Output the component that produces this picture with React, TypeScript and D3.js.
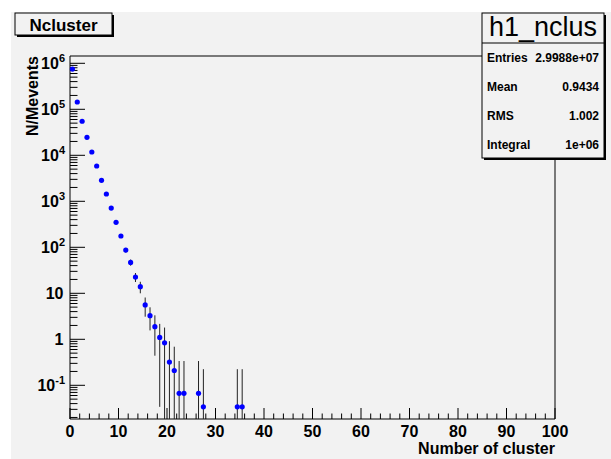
import React from "react";
import * as d3 from "d3";

// ---- data ----
const binCenters = [0.5, 1.5, 2.5, 3.5, 4.5, 5.5, 6.5, 7.5, 8.5, 9.5, 10.5, 11.5, 12.5, 13.5, 14.5, 15.5, 16.5, 17.5, 18.5, 19.5, 20.5, 21.5, 22.5, 23.5, 26.5, 27.5, 34.5, 35.5];
const values = [7.5e5, 1.44e5, 5.5e4, 2.46e4, 1.18e4, 5850, 2860, 1440, 714, 349, 176, 87, 47, 22.6, 13.9, 5.6, 3.26, 1.88, 1.1, 0.84, 0.32, 0.21, 0.067, 0.067, 0.067, 0.034, 0.034, 0.034];
const errors = [909, 398, 246, 165, 114, 80, 56, 40, 28, 19.6, 13.9, 9.8, 7.2, 5.0, 3.9, 2.5, 1.7, 1.44, 1.066, 0.96, 0.59, 0.48, 0.27, 0.27, 0.27, 0.19, 0.19, 0.19];

const xTickLabels = [0, 10, 20, 30, 40, 50, 60, 70, 80, 90, 100];
const yDecades = [-1, 0, 1, 2, 3, 4, 5, 6];

const statsTitle = "h1_nclus";
const statsNames = ["Entries", "Mean", "RMS", "Integral"];
const statsValues = ["2.9988e+07", "0.9434", "1.002", "1e+06"];

const histTitle = "Ncluster";
const xTitle = "Number of cluster";
const yTitle = "N/Mevents";

// ---- layout ----
const W = 611, H = 459;
const L = 70, R = 555, T = 56, B = 419;
const xDomain: [number, number] = [0, 100];
const yDomain: [number, number] = [0.01851, 1.441e6];
const FONT = "'Liberation Sans', Arial, Helvetica, sans-serif";
const BG = "#f2f2f2";

export default function App() {
  const x = d3.scaleLinear().domain(xDomain).range([L, R]);
  const y = d3.scaleLog().domain(yDomain).range([B, T]);

  const xMinor = d3.range(0, 101, 2);
  const yMinor: number[] = [];
  for (let d = -2; d <= 6; d++) {
    for (let k = 2; k <= 9; k++) {
      const v = k * Math.pow(10, d);
      if (v >= yDomain[0] && v <= yDomain[1]) yMinor.push(v);
    }
  }

  const clampY = (v: number) => (v <= yDomain[0] ? B : Math.max(T, y(v)));

  const yLabel = (d: number) => {
    if (d === 0) return <tspan>1</tspan>;
    if (d === 1) return <tspan>10</tspan>;
    return (
      <>
        <tspan>10</tspan>
        <tspan fontSize={11} dy={-7}>{String(d)}</tspan>
      </>
    );
  };

  return (
    <div style={{ position: "absolute", left: 0, top: 0 }}>
      <svg width={W} height={H} style={{ display: "block" }} fontFamily={FONT}>
        <rect x={0} y={0} width={W} height={H} fill="#ffffff" />
        <rect x={11} y={12} width={W - 11} height={H - 12} fill={BG} />

        {/* frame */}
        <line x1={L} y1={T} x2={R} y2={T} stroke="#000" />
        <line x1={L} y1={T} x2={L} y2={B} stroke="#000" />
        <line x1={R} y1={T} x2={R} y2={B} stroke="#000" />
        <line x1={L} y1={B} x2={R} y2={B} stroke="#000" />

        {/* x ticks */}
        {xMinor.map((v) => (
          <line key={"xm" + v} x1={x(v)} x2={x(v)} y1={B} y2={B - (v % 10 === 0 ? 11 : 5.5)} stroke="#000" />
        ))}
        {xTickLabels.map((v) => (
          <text key={"xl" + v} x={x(v)} y={437} textAnchor="middle" fontSize={16} fontWeight="bold">
            {v}
          </text>
        ))}
        <text x={R} y={454} textAnchor="end" fontSize={16} fontWeight="bold">{xTitle}</text>

        {/* y ticks */}
        {yMinor.map((v, i) => (
          <line key={"ym" + i} x1={L} x2={L + 7.5} y1={y(v)} y2={y(v)} stroke="#000" />
        ))}
        {yDecades.map((d) => (
          <line key={"yM" + d} x1={L} x2={L + 15} y1={y(Math.pow(10, d))} y2={y(Math.pow(10, d))} stroke="#000" />
        ))}
        {yDecades.map((d) => (
          <text key={"yl" + d} x={d === 0 || d === 1 ? 63.5 : 65} y={y(Math.pow(10, d)) + 6} textAnchor="end" fontSize={16} fontWeight="bold">
            {yLabel(d)}
          </text>
        ))}
        <text transform={`translate(38,${T}) rotate(-90)`} textAnchor="end" fontSize={16} fontWeight="bold">{yTitle}</text>

        {/* data */}
        {binCenters.map((c, i) => (
          <line key={"e" + i} x1={x(c)} x2={x(c)} y1={clampY(values[i] - errors[i])} y2={clampY(values[i] + errors[i])} stroke="#222" strokeWidth={1} />
        ))}
        {binCenters.map((c, i) => (
          <circle key={"p" + i} cx={x(c)} cy={y(values[i])} r={2.6} fill="#0000ff" />
        ))}

        {/* title box */}
        <rect x={17} y={15} width={97} height={22} fill="#000" />
        <rect x={15} y={13} width={97} height={22} fill={BG} stroke="#000" />
        <text x={63.5} y={31} textAnchor="middle" fontSize={17} fontWeight="bold">{histTitle}</text>

        {/* stats box */}
        <rect x={484} y={15} width={122} height={145} fill="#000" />
        <rect x={482} y={13} width={122} height={145} fill={BG} stroke="#000" />
        <line x1={482} x2={604} y1={43} y2={43} stroke="#000" />
        <text x={543} y={36} textAnchor="middle" fontSize={27}>{statsTitle}</text>
        {statsNames.map((n, i) => (
          <g key={n}>
            <text x={487} y={61.5 + i * 29} fontSize={12} fontWeight="bold">{n}</text>
            <text x={599} y={61.5 + i * 29} textAnchor="end" fontSize={12} fontWeight="bold">{statsValues[i]}</text>
          </g>
        ))}
      </svg>
    </div>
  );
}
